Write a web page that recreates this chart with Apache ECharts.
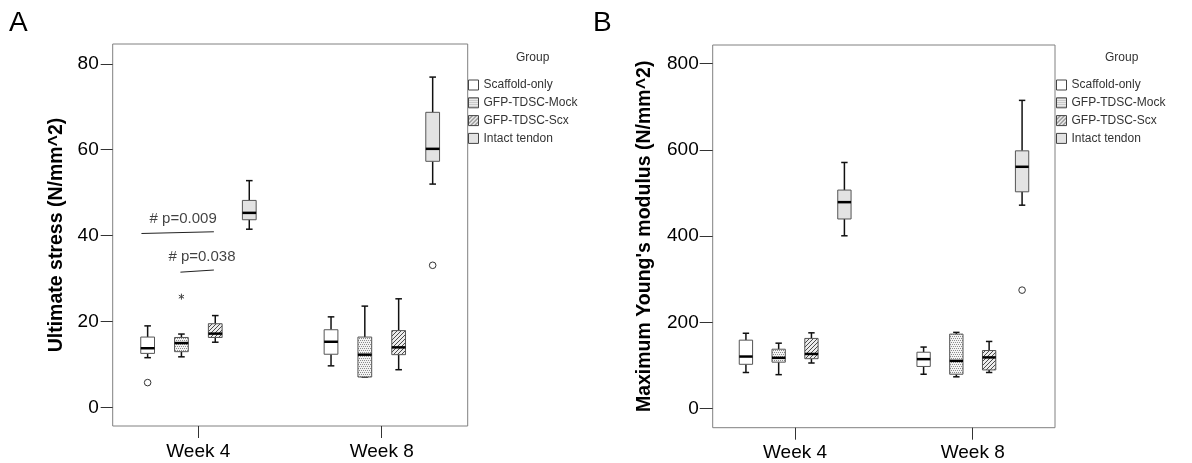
<!DOCTYPE html>
<html lang="en">
<head>
<meta charset="UTF-8">
<title>Ultimate stress and Young's modulus</title>
<script src="https://cdn.jsdelivr.net/npm/echarts@6/dist/echarts.min.js"></script>
<style>html,body{margin:0;padding:0;background:#fff}</style>
</head>
<body>
<div id="main" style="width:1192px;height:463px;"></div>
<script>
var weeks = [4, 8];
var groups = ['Scaffold-only', 'GFP-TDSC-Mock', 'GFP-TDSC-Scx', 'Intact tendon'];

// box stats per group: [min, Q1, median, Q3, max]
var stressWeek4 = [[11.6, 12.6, 13.8, 16.4, 19.0], [11.8, 13.0, 15.0, 16.3, 17.1], [15.2, 16.3, 17.2, 19.5, 21.4], [41.5, 43.7, 45.3, 48.2, 52.8]];
var stressWeek8 = [[9.7, 12.4, 15.3, 18.1, 21.1], [7.1, 7.1, 12.3, 16.4, 23.6], [8.8, 12.3, 14.0, 17.9, 25.3], [52.0, 57.3, 60.2, 68.7, 76.9]];
var modulusWeek4 = [[84, 103, 121, 159, 175], [79, 108, 118, 138, 152], [106, 116, 127, 163, 176], [401, 440, 479, 507, 571]];
var modulusWeek8 = [[80, 98, 115, 131, 143], [74, 80, 111, 173, 177], [84, 90, 119, 135, 156], [472, 503, 561, 598, 715]];

// outliers: [week index, group index, value, marker]
var stressOutliers = [[0, 0, 5.8, 'o'], [0, 1, 25.8, '*'], [1, 3, 33.1, 'o']];
var modulusOutliers = [[1, 3, 275, 'o']];

// significance notes on panel A
var pLabels = ['# p=0.009', '# p=0.038'];
var pLabelAt = [[3.67, 43.9], [4.08, 35.1]];
var pLines = [[2.76, 40.5, 4.34, 40.9], [3.61, 31.5, 4.34, 32.0]];

var stressTicks = [0, 20, 40, 60, 80];
var modulusTicks = [0, 200, 400, 600, 800];

var FONT = '"Liberation Sans", Arial, sans-serif';
var OFFSETS = [-1.105, -0.368, 0.37, 1.112];
var BOX_W = 0.3;

function tile(size, bg, px, ink) {
    var c = document.createElement('canvas');
    c.width = c.height = size;
    var ctx = c.getContext('2d');
    ctx.fillStyle = bg;
    ctx.fillRect(0, 0, size, size);
    ctx.fillStyle = ink;
    px.forEach(function (p) { ctx.fillRect(p[0], p[1], 1, 1); });
    return { image: c, repeat: 'repeat' };
}

var fills = [
    '#ffffff',
    tile(4, '#f4f4f4', [[0, 0], [2, 0], [1, 2], [3, 2]], '#8c8c8c'),
    tile(4, '#ececec', [[3, 0], [2, 1], [1, 2], [0, 3]], '#4a4a4a'),
    '#e3e3e3'
];

function boxRenderer(fill) {
    return function (params, api) {
        var x = api.value(0);
        var lo = api.coord([x, api.value(1)]);
        var q1 = api.coord([x, api.value(2)]);
        var md = api.coord([x, api.value(3)]);
        var q3 = api.coord([x, api.value(4)]);
        var hi = api.coord([x, api.value(5)]);
        var w = api.size([BOX_W, 0])[0];
        var cx = lo[0], half = w / 2, cap = w * 0.24;
        function ink() { return { stroke: '#111', lineWidth: 1.5 }; }
        return {
            type: 'group',
            children: [
                { type: 'line', shape: { x1: cx, y1: q1[1], x2: cx, y2: lo[1] }, style: ink() },
                { type: 'line', shape: { x1: cx, y1: q3[1], x2: cx, y2: hi[1] }, style: ink() },
                { type: 'line', shape: { x1: cx - cap, y1: lo[1], x2: cx + cap, y2: lo[1] }, style: ink() },
                { type: 'line', shape: { x1: cx - cap, y1: hi[1], x2: cx + cap, y2: hi[1] }, style: ink() },
                { type: 'rect', shape: { x: cx - half, y: q3[1], width: w, height: q1[1] - q3[1] },
                  style: { fill: fill, stroke: '#555', lineWidth: 1 } },
                { type: 'line', shape: { x1: cx - half, y1: md[1], x2: cx + half, y2: md[1] },
                  style: { stroke: '#000', lineWidth: 2.5 } }
            ]
        };
    };
}

function boxSeries(panel, week4, week8) {
    return groups.map(function (name, g) {
        return {
            name: name,
            type: 'custom',
            xAxisIndex: panel,
            yAxisIndex: panel,
            silent: true,
            renderItem: boxRenderer(fills[g]),
            data: [week4, week8].map(function (rows, w) {
                return [weeks[w] + OFFSETS[g]].concat(rows[g]);
            })
        };
    });
}

function outlierSeries(panel, rows) {
    return {
        type: 'custom',
        xAxisIndex: panel,
        yAxisIndex: panel,
        silent: true,
        renderItem: function (params, api) {
            var p = api.coord([api.value(0), api.value(1)]);
            if (api.value(2) === 1) {
                var r = 3, kids = [];
                [90, 30, 150].forEach(function (a) {
                    var dx = r * Math.cos(a * Math.PI / 180), dy = r * Math.sin(a * Math.PI / 180);
                    kids.push({ type: 'line', shape: { x1: p[0] - dx, y1: p[1] - dy, x2: p[0] + dx, y2: p[1] + dy },
                        style: { stroke: '#444', lineWidth: 1 } });
                });
                return { type: 'group', children: kids };
            }
            return { type: 'circle', shape: { cx: p[0], cy: p[1], r: 3.3 },
                style: { fill: '#fff', stroke: '#333', lineWidth: 1 } };
        },
        data: rows.map(function (r) {
            return [weeks[r[0]] + OFFSETS[r[1]], r[2], r[3] === '*' ? 1 : 0];
        })
    };
}

var noteSeries = {
    type: 'scatter',
    xAxisIndex: 0,
    yAxisIndex: 0,
    silent: true,
    symbolSize: 1,
    itemStyle: { color: 'rgba(0,0,0,0)' },
    label: {
        show: true, position: 'inside', fontSize: 15, color: '#111', fontFamily: FONT,
        formatter: function (p) { return pLabels[p.dataIndex]; }
    },
    data: pLabelAt,
    markLine: {
        silent: true,
        symbol: ['none', 'none'],
        label: { show: false },
        lineStyle: { color: '#222', width: 1, type: 'solid' },
        data: pLines.map(function (l) {
            return [{ coord: [l[0], l[1]] }, { coord: [l[2], l[3]] }];
        })
    }
};

function legendAt(left) {
    return {
        orient: 'vertical', left: left, top: 79, padding: 0,
        icon: 'rect', itemWidth: 10, itemHeight: 10, itemGap: 5.8,
        selectedMode: false,
        textStyle: { fontSize: 12, color: '#333', fontFamily: FONT, lineHeight: 10 },
        data: groups.map(function (n, g) {
            return { name: n, itemStyle: { color: fills[g], borderColor: '#444', borderWidth: 1 } };
        })
    };
}

function xAxisFor(panel, min, max) {
    return {
        type: 'value', gridIndex: panel, min: min, max: max,
        axisLine: { show: false, onZero: false }, splitLine: { show: false },
        axisTick: { customValues: weeks, length: 12, lineStyle: { color: '#333' } },
        axisLabel: { customValues: weeks, margin: 16, fontSize: 19, color: '#000', fontFamily: FONT,
            formatter: function (v) { return 'Week ' + v; } }
    };
}

function yAxisFor(panel, min, max, ticks, name, gap, tickLen) {
    return {
        type: 'value', gridIndex: panel, min: min, max: max,
        name: name, nameLocation: 'middle', nameGap: gap,
        nameTextStyle: { fontSize: 19.5, fontWeight: 'bold', color: '#000', fontFamily: FONT },
        axisLine: { show: false, onZero: false }, splitLine: { show: false },
        axisTick: { customValues: ticks, length: tickLen, lineStyle: { color: '#333' } },
        axisLabel: { customValues: ticks, margin: 14, fontSize: 19, color: '#000', fontFamily: FONT }
    };
}

var chart = echarts.init(document.getElementById('main'));
chart.setOption({
    animation: false,
    backgroundColor: '#fff',
    textStyle: { fontFamily: FONT },
    title: [
        { text: 'A', left: 9, top: 9, padding: 0, textStyle: { fontSize: 28, fontWeight: 'normal', color: '#000', fontFamily: FONT } },
        { text: 'B', left: 593, top: 9, padding: 0, textStyle: { fontSize: 28, fontWeight: 'normal', color: '#000', fontFamily: FONT } },
        { text: 'Group', left: 516, top: 52, padding: 0, textStyle: { fontSize: 12, fontWeight: 'normal', color: '#333', fontFamily: FONT } },
        { text: 'Group', left: 1105, top: 52, padding: 0, textStyle: { fontSize: 12, fontWeight: 'normal', color: '#333', fontFamily: FONT } }
    ],
    legend: [legendAt(468), legendAt(1056)],
    grid: [
        { left: 112.7, top: 44, width: 355, height: 382, show: true, borderColor: '#808080', borderWidth: 1 },
        { left: 712.7, top: 45, width: 342.3, height: 382.7, show: true, borderColor: '#808080', borderWidth: 1 }
    ],
    xAxis: [xAxisFor(0, 2.133, 9.876), xAxisFor(1, 2.147, 9.853)],
    yAxis: [
        yAxisFor(0, -4.3, 84.6, stressTicks, 'Ultimate stress (N/mm^2)', 46, 12),
        yAxisFor(1, -44, 843.4, modulusTicks, "Maximum Young's modulus (N/mm^2)", 58, 13)
    ],
    series: boxSeries(0, stressWeek4, stressWeek8)
        .concat(boxSeries(1, modulusWeek4, modulusWeek8))
        .concat([outlierSeries(0, stressOutliers), outlierSeries(1, modulusOutliers), noteSeries])
});
</script>
</body>
</html>
